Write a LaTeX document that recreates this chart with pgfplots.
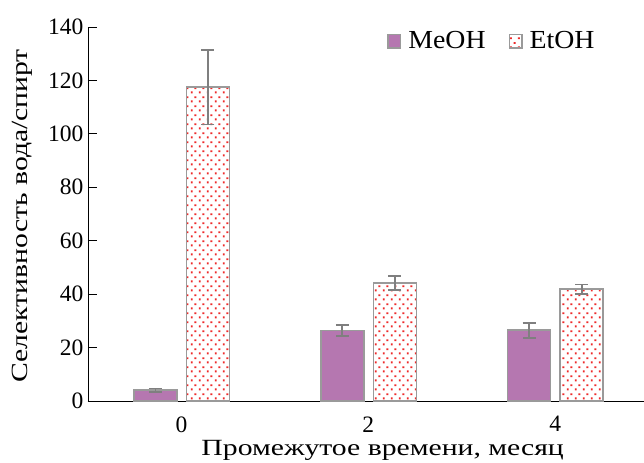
\documentclass[border=0pt]{standalone}
\usepackage{fontspec}
\setmainfont{Liberation Serif}
\newfontfamily\labelfont{Liberation Serif}[FakeStretch=1.28]
\newfontfamily\legfont{Liberation Serif}[FakeStretch=1.07]
\usepackage{pgfplots}
\pgfplotsset{compat=1.18}
\usetikzlibrary{patterns}
\definecolor{meoh}{HTML}{B577B0}
\definecolor{edge}{HTML}{9A9A9A}
\definecolor{errc}{HTML}{7F7F7F}
\definecolor{dotred}{HTML}{EE2A2A}
\pgfdeclarepatternformonly{mydots}{\pgfpointorigin}{\pgfpoint{7.6bp}{9bp}}{\pgfpoint{7.6bp}{9bp}}{%
  \pgfpathrectangle{\pgfpoint{0.8bp}{0.8bp}}{\pgfpoint{2bp}{2bp}}%
  \pgfpathrectangle{\pgfpoint{4.6bp}{5.3bp}}{\pgfpoint{2bp}{2bp}}%
  \pgfusepath{fill}}
\pgfplotstableread{
x  meoh  meohe  etoh  etohe
0  4.1   0.6    117.5 14.0
2  26.3  2.0    44.2  2.5
4  26.5  2.8    41.9  1.7
}\datatable
\begin{document}
\begin{tikzpicture}
\path[use as bounding box] (-88bp,-62bp) rectangle (556bp,401bp);
\begin{axis}[
  at={(0,0)}, anchor=south west,
  scale only axis, width=556bp, height=374bp,
  xmin=-1, xmax=4.95, ymin=0, ymax=140,
  axis x line*=bottom, axis y line*=left,
  axis line style={black, line width=0.9bp},
  xtick={0,2,4}, xtick style={draw=none},
  ytick={0,20,...,140},
  tick align=inside, major tick length=9bp,
  y tick style={black, line width=0.8bp},
  /pgf/number format/assume math mode=true,
  ticklabel style={font=\fontsize{23.5bp}{27bp}\selectfont},
  yticklabel style={xshift=-1bp},
  xticklabel style={yshift=-3bp},
  xlabel={Промежутое времени, месяц},
  ylabel={Селективность вода/спирт},
  label style={font=\labelfont\fontsize{23.2bp}{27bp}\selectfont},
  xlabel style={at={(axis description cs:0.53,-0.1444)}, anchor=base},
  ylabel style={at={(axis description cs:-0.108,0.495)}, anchor=base, rotate=0},
  ybar, bar width=43bp,
  legend style={draw=none, fill=none, at={(axis description cs:0.915,0.995)}, anchor=north east,
    inner sep=0pt,
    legend columns=2, font=\legfont\fontsize{26bp}{30bp}\selectfont,
    /tikz/every even column/.append style={column sep=21bp}},
  legend image code/.code={\draw[#1, line width=1.5bp] (0bp,-7.5bp) rectangle (12.5bp,6bp); \path (17.5bp,0bp);},
  error bars/y dir=both, error bars/y explicit,
  error bars/error bar style={errc, line width=1.8bp},
  error bars/error mark options={rotate=90, mark size=6.5bp, errc, line width=1.8bp},
]
\addplot+[bar shift=-26bp, fill=meoh, draw=edge, line width=1.5bp]
  table[x=x, y=meoh, y error=meohe] {\datatable};
\addlegendentry{MeOH}
\addplot+[bar shift=26.5bp, fill=white, draw=edge, line width=1.5bp,
  postaction={pattern=mydots, pattern color=dotred}]
  table[x=x, y=etoh, y error=etohe] {\datatable};
\addlegendentry{EtOH}
\end{axis}
\end{tikzpicture}
\end{document}
